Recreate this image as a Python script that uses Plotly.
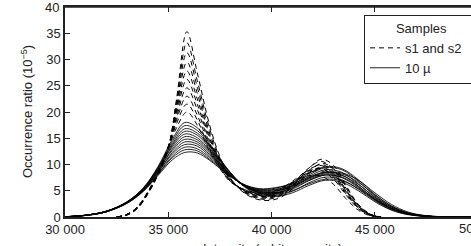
import plotly.graph_objects as go

# ---- data ----
dash_x = [32500, 33000, 33500, 34000, 34500, 35000, 35400, 35900, 36400, 37000, 37500,
          38000, 38700, 39500, 40300, 41000, 41700, 42400, 43000, 43600, 44200, 44800, 45300]
dash_curves = [
    [0, 0.4, 1.6, 4.3, 8.0, 13.0, 22.5, 35.3, 27.5, 17.5, 11.5, 7.5, 4.5, 3.2, 3.5, 5.3, 8.0, 10.2, 9.2, 5.8, 2.3, 0.5, 0],
    [0, 0.5, 1.8, 4.6, 8.3, 13.2, 22.0, 33.2, 26.0, 16.8, 11.2, 7.4, 4.6, 3.4, 3.8, 5.8, 8.8, 11.0, 9.8, 6.0, 2.4, 0.5, 0],
    [0, 0.4, 1.7, 4.4, 8.2, 13.1, 21.3, 31.3, 24.8, 16.0, 10.8, 7.3, 4.7, 3.6, 4.0, 5.6, 8.0, 9.5, 8.2, 5.0, 2.0, 0.4, 0],
    [0, 0.5, 1.9, 4.7, 8.5, 13.4, 20.8, 29.5, 23.6, 15.5, 10.6, 7.2, 4.8, 3.7, 4.2, 6.0, 8.6, 10.0, 8.6, 5.2, 2.1, 0.4, 0],
    [0, 0.4, 1.7, 4.5, 8.3, 13.2, 20.2, 27.8, 22.5, 15.0, 10.4, 7.2, 4.9, 3.9, 4.4, 6.3, 9.0, 10.6, 9.0, 5.5, 2.2, 0.5, 0],
    [0, 0.5, 1.8, 4.6, 8.4, 13.3, 19.6, 26.2, 21.5, 14.5, 10.2, 7.1, 5.0, 4.0, 4.5, 6.0, 8.2, 9.2, 7.8, 4.6, 1.8, 0.3, 0],
    [0, 0.4, 1.6, 4.4, 8.1, 13.0, 19.0, 24.6, 20.5, 14.0, 10.0, 7.0, 5.0, 4.1, 4.6, 6.4, 8.8, 9.8, 8.2, 4.9, 1.9, 0.4, 0],
    [0, 0.5, 1.9, 4.8, 8.6, 13.5, 18.5, 23.0, 19.4, 13.5, 9.7, 6.9, 5.1, 4.2, 4.8, 6.5, 8.3, 8.8, 7.2, 4.2, 1.6, 0.3, 0],
    [0, 0.4, 1.7, 4.5, 8.3, 13.1, 17.8, 21.5, 18.5, 13.0, 9.5, 6.8, 5.2, 4.4, 5.0, 6.8, 8.6, 9.2, 7.6, 4.4, 1.7, 0.3, 0],
    [0, 0.5, 1.8, 4.6, 8.4, 13.2, 17.0, 20.0, 17.5, 12.5, 9.2, 6.7, 5.2, 4.5, 5.2, 6.6, 7.8, 7.8, 6.2, 3.5, 1.3, 0.2, 0],
]

solid_x = [30000, 31000, 32000, 33000, 33800, 34500, 35200, 35800, 36400, 37000, 37800, 38600, 39400,
           40200, 41000, 41800, 42600, 43400, 44200, 45000, 45800, 46600, 47400, 48200, 49000, 50000]
solid_curves = [
    [0.05, 0.35, 1.1, 2.9, 5.6, 9.6, 14.8, 18.0, 17.0, 14.0, 9.5, 6.0, 4.2, 3.9, 4.6, 6.0, 7.0, 6.6, 5.0, 2.9, 1.3, 0.45, 0.12, 0.03, 0.01, 0],
    [0.05, 0.3, 1.0, 2.8, 5.5, 9.4, 14.4, 17.4, 16.5, 13.7, 9.4, 6.1, 4.4, 4.1, 4.9, 6.5, 7.6, 7.1, 5.3, 3.1, 1.4, 0.5, 0.14, 0.03, 0.01, 0],
    [0.06, 0.35, 1.1, 2.9, 5.5, 9.3, 14.0, 16.8, 16.0, 13.4, 9.3, 6.2, 4.6, 4.3, 5.0, 6.3, 7.2, 6.9, 5.4, 3.3, 1.6, 0.6, 0.17, 0.04, 0.01, 0],
    [0.05, 0.3, 1.0, 2.8, 5.4, 9.1, 13.7, 16.3, 15.6, 13.1, 9.2, 6.2, 4.7, 4.5, 5.3, 6.9, 8.0, 7.5, 5.6, 3.3, 1.5, 0.55, 0.15, 0.04, 0.01, 0],
    [0.06, 0.35, 1.1, 2.8, 5.3, 9.0, 13.4, 15.8, 15.1, 12.7, 9.0, 6.1, 4.7, 4.6, 5.6, 7.4, 8.6, 8.0, 5.9, 3.4, 1.6, 0.6, 0.17, 0.04, 0.01, 0],
    [0.05, 0.3, 1.0, 2.7, 5.2, 8.8, 13.0, 15.3, 14.7, 12.5, 8.9, 6.1, 4.8, 4.7, 5.5, 7.0, 8.0, 7.6, 5.8, 3.5, 1.7, 0.65, 0.2, 0.05, 0.01, 0],
    [0.06, 0.35, 1.1, 2.8, 5.3, 8.8, 12.7, 14.8, 14.3, 12.2, 8.8, 6.1, 4.9, 4.9, 5.9, 7.7, 9.0, 8.5, 6.3, 3.7, 1.7, 0.6, 0.18, 0.04, 0.01, 0],
    [0.05, 0.3, 1.0, 2.7, 5.1, 8.5, 12.3, 14.3, 13.9, 11.9, 8.7, 6.1, 5.0, 5.0, 5.8, 7.2, 8.2, 7.9, 6.2, 3.8, 1.9, 0.7, 0.22, 0.05, 0.01, 0],
    [0.06, 0.35, 1.1, 2.8, 5.2, 8.5, 12.0, 13.8, 13.5, 11.6, 8.6, 6.2, 5.1, 5.2, 6.2, 8.0, 9.4, 9.0, 6.8, 4.0, 1.9, 0.7, 0.2, 0.05, 0.01, 0],
    [0.05, 0.3, 1.0, 2.6, 5.0, 8.2, 11.6, 13.3, 13.0, 11.3, 8.5, 6.2, 5.2, 5.3, 6.0, 7.4, 8.4, 8.2, 6.6, 4.2, 2.1, 0.8, 0.25, 0.06, 0.01, 0],
    [0.06, 0.35, 1.1, 2.7, 5.0, 8.1, 11.3, 12.8, 12.6, 11.0, 8.4, 6.3, 5.3, 5.5, 6.5, 8.3, 9.6, 9.2, 7.1, 4.3, 2.1, 0.8, 0.24, 0.06, 0.01, 0],
    [0.05, 0.3, 1.0, 2.6, 4.9, 7.9, 10.9, 12.3, 12.2, 10.8, 8.3, 6.3, 5.4, 5.6, 6.3, 7.6, 8.5, 8.4, 7.0, 4.6, 2.4, 0.95, 0.3, 0.07, 0.01, 0],
]

x_tickvals = [30000, 35000, 40000, 45000, 50000]
x_ticktext = ["30 000", "35 000", "40 000", "45 000", "50 000"]
y_tickvals = [0, 5, 10, 15, 20, 25, 30, 35, 40]
y_ticktext = ["0", "5", "10", "15", "20", "25", "30", "35", "40"]
series_names = ["s1 and s2", "10 µ"]

FONT = "Liberation Sans, Arial, sans-serif"
INK = "#222222"

fig = go.Figure()
for i, ys in enumerate(dash_curves):
    fig.add_trace(go.Scatter(
        x=dash_x, y=ys, mode="lines", line=dict(color="black", width=1.0, dash="5px,4px", shape="spline"),
        name=series_names[0] + "\u00a0\u00a0\u00a0", legendgroup="d", showlegend=(i == 0)))
for i, ys in enumerate(solid_curves):
    fig.add_trace(go.Scatter(
        x=solid_x, y=ys, mode="lines", line=dict(color="rgba(0,0,0,0.85)", width=1, shape="spline"),
        name=series_names[1], legendgroup="s", showlegend=(i == 0)))

L, T, B = 65, 7, 29
W, H = 471, 246
plot_w = W - L
plot_h = H - T - B
px_per_unit = 103.3 / 5000
xmax = 30000 + plot_w / px_per_unit

fig.update_layout(
    width=W, height=H,
    margin=dict(l=L, r=0, t=T, b=B, autoexpand=False),
    plot_bgcolor="white", paper_bgcolor="white",
    font=dict(family=FONT, size=13, color=INK),
    showlegend=True,
    legend=dict(
        x=(364 - L) / plot_w, y=(H - B - 15) / plot_h, xanchor="left", yanchor="top",
        bordercolor=INK, borderwidth=1, bgcolor="white",
        title=dict(text="Samples", side="top center", font=dict(size=13)),
        font=dict(size=13), tracegroupgap=0, itemwidth=30,
    ),
)
fig.update_xaxes(
    range=[30000, xmax], tickvals=x_tickvals, ticktext=x_ticktext,
    ticks="inside", ticklen=5, tickwidth=1, tickcolor=INK,
    showline=True, linecolor=INK, linewidth=1.5, mirror="ticks",
    showgrid=False, zeroline=False, tickfont=dict(size=13), automargin=False,
)
fig.update_yaxes(
    range=[0, 40], tickvals=y_tickvals, ticktext=y_ticktext,
    ticks="inside", ticklen=5, tickwidth=1, tickcolor=INK,
    showline=True, linecolor=INK, linewidth=1.5, mirror=False,
    showgrid=False, zeroline=False, tickfont=dict(size=13), automargin=False,
)
# top frame line
fig.add_shape(type="line", xref="paper", yref="paper", x0=0, x1=1, y0=1, y1=1,
              line=dict(color=INK, width=1.5))
# tick labels that Plotly drops at the plot edges
fig.add_annotation(x=(61 - L) / plot_w, xref="paper", y=1, yref="paper", text=y_ticktext[-1],
                   showarrow=False, xanchor="right", yanchor="middle", font=dict(size=13, color=INK))
fig.add_annotation(x=(478.7 - L) / plot_w, xref="paper", y=-(228 - (H - B)) / plot_h, yref="paper",
                   text=x_ticktext[-1], showarrow=False, xanchor="center", yanchor="middle",
                   font=dict(size=13, color=INK))
# axis titles (x title cut off at the bottom like the reference)
fig.add_annotation(x=(27 - L) / plot_w, xref="paper", y=0.5, yref="paper",
                   text="Occurrence ratio (10<sup>−5</sup>)", textangle=-90, showarrow=False,
                   xanchor="center", yanchor="middle", font=dict(size=13, color=INK))
fig.add_annotation(x=(272 - L) / plot_w, xref="paper", y=-(239 - (H - B)) / plot_h, yref="paper",
                   text="Intensity (arbitrary units)", showarrow=False,
                   xanchor="center", yanchor="top", font=dict(size=13, color=INK))

fig.write_html("out.html")
